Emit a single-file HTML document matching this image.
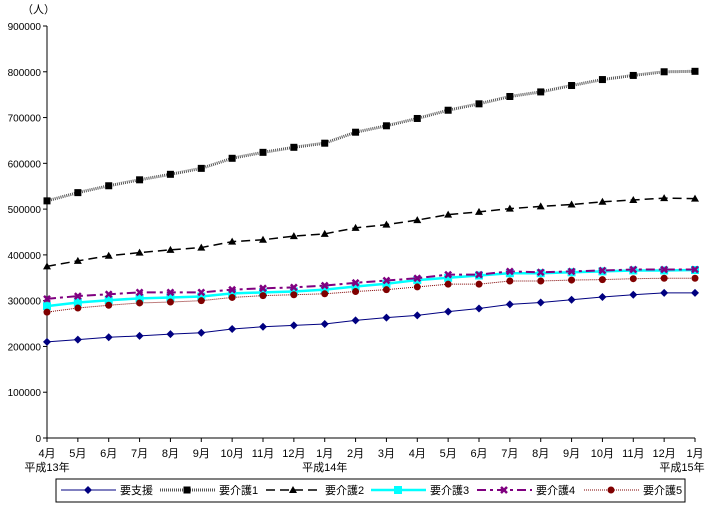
<!DOCTYPE html>
<html><head><meta charset="utf-8"><style>
body{margin:0;background:#fff;}
svg{display:block;font-family:"Liberation Sans","Noto Sans CJK JP",sans-serif;}
</style></head><body>
<svg id="c" width="708" height="505"></svg>
<script>
const months=["4月","5月","6月","7月","8月","9月","10月","11月","12月","1月","2月","3月","4月","5月","6月","7月","8月","9月","10月","11月","12月","1月"];
const yearLabels=[[0,"平成13年"],[9,"平成14年"],[21,"平成15年"]];
const yTicks=[0,100000,200000,300000,400000,500000,600000,700000,800000,900000];
const s0=[210,215,220,223,227,230,238,243,246,249,257,263,268,276,283,292,296,302,308,313,317,317];
const s1=[518,536,551,564,576,589,611,624,635,644,668,682,698,716,730,746,756,770,783,792,800,801];
const s2=[375,387,398,405,411,416,429,433,441,446,459,466,476,488,494,501,506,510,516,520,524,523];
const s3=[288,296,301,305,307,309,316,318,320,324,331,337,345,350,355,360,360,362,364,366,366,367];
const s4=[304,310,314,318,318,318,324,327,329,333,339,344,349,357,357,364,362,364,366,368,368,368];
const s5=[275,284,290,295,297,300,307,311,313,315,320,324,330,336,336,343,343,345,346,348,349,349];
const names=["要支援","要介護1","要介護2","要介護3","要介護4","要介護5"];
const NS="http://www.w3.org/2000/svg",svg=document.getElementById('c');
const X=i=>47+i*(648/21), Y=v=>438-v/900000*412;
function el(t,a,p){const e=document.createElementNS(NS,t);for(const k in a)e.setAttribute(k,a[k]);(p||svg).appendChild(e);return e;}
const styles=[
 {c:"#000080",w:1,d:"",m:"diamond"},
 {c:"#555",w:3,d:"1 1",m:"square"},
 {c:"#000",w:1.5,d:"9 5",m:"tri"},
 {c:"#00ffff",w:2.5,d:"",m:"bigsq"},
 {c:"#800080",w:2,d:"9 4 3 4",m:"x"},
 {c:"#800000",w:1,d:"1 1",m:"circle"}];
function marker(m,x,y,c,g){
 if(m=="diamond")return el('polygon',{points:`${x},${y-4} ${x+4},${y} ${x},${y+4} ${x-4},${y}`,fill:c},g);
 if(m=="square")return el('rect',{x:x-3.5,y:y-3.5,width:7,height:7,fill:"#000"},g);
 if(m=="tri")return el('polygon',{points:`${x},${y-4} ${x+4},${y+3} ${x-4},${y+3}`,fill:"#000"},g);
 if(m=="bigsq")return el('rect',{x:x-4,y:y-4,width:8,height:8,fill:c},g);
 if(m=="x"){const p=el('path',{d:`M${x-3},${y-3}L${x+3},${y+3}M${x+3},${y-3}L${x-3},${y+3}`,stroke:c,"stroke-width":2.5},g);return p;}
 return el('circle',{cx:x,cy:y,r:3.5,fill:c},g);}
// axes
let ax=el('line',{x1:47,y1:26,x2:47,y2:438,stroke:"#000"});

ax=el('line',{x1:47,y1:438,x2:695,y2:438,stroke:"#000"});

yTicks.forEach(v=>{
 el('line',{x1:43,y1:Y(v),x2:47,y2:Y(v),stroke:"#000"});
 const t=el('text',{x:41,y:Y(v)+4,"text-anchor":"end","font-size":10});t.textContent=v;
 });
let u=el('text',{x:22,y:13,"font-size":11});u.textContent="（人）";

months.forEach((m,i)=>{
 el('line',{x1:X(i),y1:438,x2:X(i),y2:442,stroke:"#000"});
 const t=el('text',{x:X(i),y:457,"text-anchor":"middle","font-size":11});t.textContent=m;
 });
yearLabels.forEach(([i,s])=>{
 const t=el('text',{x:Math.min(X(i),682),y:471,"text-anchor":"middle","font-size":11});t.textContent=s;
 });
[s0,s1,s2,s3,s4,s5].forEach((s,k)=>{
 const st=styles[k];const g=el('g',{});
 
 el('polyline',{points:s.map((v,i)=>X(i)+","+Y(v*1000)).join(" "),fill:"none",stroke:st.c,"stroke-width":st.w,"stroke-dasharray":st.d},g);
 s.forEach((v,i)=>marker(st.m,X(i),Y(v*1000),st.c,g));});
// legend
const lg=el('g',{});
el('rect',{x:56,y:479,width:629,height:23,fill:"#fff",stroke:"#000"},lg);
const lx=[61,160,266,371,477,584];
names.forEach((n,k)=>{
 const st=styles[k],x=lx[k],y=490;const g=el('g',{},lg);
 
 el('line',{x1:x,y1:y,x2:x+55,y2:y,stroke:st.c,"stroke-width":st.w,"stroke-dasharray":st.d},g);
 marker(st.m,x+27,y,st.c,g);
 const t=el('text',{x:x+59,y:y+4,"font-size":11},g);t.textContent=n;});
</script>
</body></html>
